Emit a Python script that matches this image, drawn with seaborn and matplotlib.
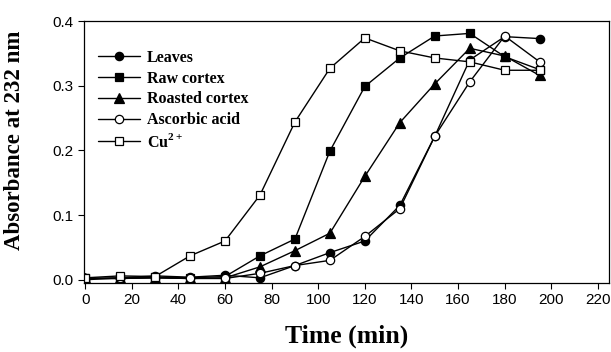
#!/usr/bin/env python3

import pandas as pd
import seaborn as sns
import matplotlib.pyplot as plt

time_min = [0, 15, 30, 45, 60, 75, 90, 105, 120, 135, 150, 165, 180, 195]

leaves = [0.000, 0.003, 0.006, 0.004, 0.007, 0.003, 0.022, 0.042, 0.060, 0.115, 0.222, 0.340, 0.376, 0.373]
raw_cortex = [0.002, 0.003, 0.004, 0.003, 0.005, 0.037, 0.063, 0.199, 0.299, 0.343, 0.377, 0.381, 0.345, 0.325]
roasted_cortex = [0.002, 0.002, 0.003, 0.002, 0.003, 0.020, 0.045, 0.072, 0.160, 0.243, 0.303, 0.358, 0.346, 0.316]
ascorbic_acid = [0.002, 0.002, 0.003, 0.002, 0.002, 0.010, 0.022, 0.030, 0.067, 0.110, 0.222, 0.306, 0.377, 0.337]
cu2 = [0.003, 0.006, 0.005, 0.037, 0.060, 0.131, 0.244, 0.327, 0.374, 0.354, 0.343, 0.337, 0.324, 0.324]

series = [
        ('Leaves', leaves, 'o', 'black'),
        ('Raw cortex', raw_cortex, 's', 'black'),
        ('Roasted cortex', roasted_cortex, '^', 'black'),
        ('Ascorbic acid', ascorbic_acid, 'o', 'white'),
        (r'Cu$^{\mathbf{2+}}$', cu2, 's', 'white'),
]

sns.set_style('ticks')
plt.rcParams['font.family'] = ['Liberation Sans', 'DejaVu Sans']
plt.rcParams['text.color'] = 'black'
plt.rcParams['axes.labelcolor'] = 'black'
plt.rcParams['mathtext.fontset'] = 'custom'
plt.rcParams['mathtext.rm'] = 'Liberation Serif:bold'
plt.rcParams['mathtext.bf'] = 'Liberation Serif:bold'

fig = plt.figure(figsize=(6.11, 3.52), dpi=100)
ax = fig.add_axes([0.1375, 0.196, 0.859, 0.744])

for label, values, marker, face in series:
    df = pd.DataFrame({'time': time_min, 'absorbance': values})
    sns.lineplot(
            df,
            x='time',
            y='absorbance',
            ax=ax,
            color='black',
            linewidth=1,
            marker=marker,
            markersize=6 if marker != '^' else 6.5,
            markerfacecolor=face,
            markeredgecolor='black',
            markeredgewidth=0.9,
            label=label,
    )

ax.set_xlim(-0.5, 224.7)
ax.set_ylim(-0.005, 0.4)
ax.set_xticks(range(0, 221, 20))
ax.set_yticks([0.0, 0.1, 0.2, 0.3, 0.4])
ax.set_yticklabels(['0.0', '0.1', '0.2', '0.3', '0.4'])
ax.tick_params(labelsize=11, length=4, width=0.8, color='black', labelcolor='black')
for s in ax.spines.values():
    s.set_color('black')
    s.set_linewidth(0.9)

ax.set_xlabel('Time (min)', fontsize=18.5, fontweight='bold', family='Liberation Serif', labelpad=12)
ax.set_ylabel('Absorbance at 232 nm', fontsize=16.5, fontweight='bold', family='Liberation Serif')
ax.yaxis.set_label_coords(-0.112, 0.545)

ax.legend(
        loc='upper left',
        bbox_to_anchor=(0.0, 0.945),
        frameon=False,
        handlelength=2.6,
        handletextpad=0.45,
        labelspacing=0.3,
        prop={'family': 'Liberation Serif', 'weight': 'bold', 'size': 11.5},
)

plt.savefig('out.png', dpi=100)
